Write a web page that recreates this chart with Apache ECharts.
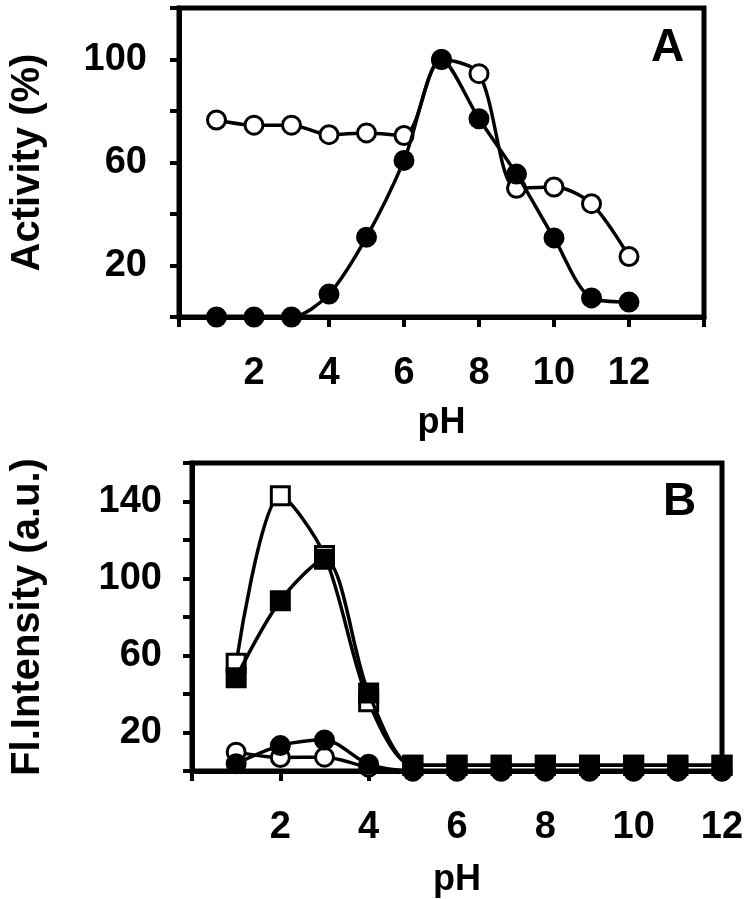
<!DOCTYPE html>
<html>
<head>
<meta charset="utf-8">
<script src="https://cdn.jsdelivr.net/npm/echarts@6/dist/echarts.min.js"></script>
<style>
html,body{margin:0;padding:0;background:#fff;}
#chart{width:754px;height:899px;}
</style>
</head>
<body>
<div id="chart"></div>
<script>
// ---- data ----
const pH = [1, 2, 3, 4, 5, 6, 7, 8, 9, 10, 11, 12];
// Panel A: Activity (%)
const actOpen   = [76.5, 74.5, 74.5, 70.8, 71.5, 70.5, 100, 94.5, 50, 50.5, 44, 23.5];
const actFilled = [0, 0, 0, 8.9, 31, 60.8, 100, 77, 55.5, 30.7, 7.4, 5.8];
// Panel B: Fl. Intensity (a.u.)
const flOpenSq    = [56, 143, 112, 36, 3, 3, 3, 3, 3, 3, 3, 3];
const flFilledSq  = [48.5, 88.5, 110, 40.5, 3, 3, 3, 3, 3, 3, 3, 3];
const flOpenCirc  = [9.8, 7, 7.2, 2, 0, 0, 0, 0, 0, 0, 0, 0];
const flFilledCirc= [3.8, 13.2, 16.1, 3.5, 0, 0, 0, 0, 0, 0, 0, 0];
// tick labels
const xTickLabelsA = [2, 4, 6, 8, 10, 12];
const yTickLabelsA = [20, 60, 100];
const xTickLabelsB = [2, 4, 6, 8, 10, 12];
const yTickLabelsB = [20, 60, 100, 140];

const FONT = 'Liberation Sans, Arial, sans-serif';
const pairs = (ys) => pH.map((x, i) => [x, ys[i]]);

function xAxis(gridIndex, max, labels, margin, nameGap) {
  return {
    type: 'value', gridIndex, min: 0, max, interval: 2,
    name: 'pH', nameLocation: 'middle', nameGap,
    nameTextStyle: {fontFamily: FONT, fontWeight: 'bold', fontSize: 36, color: '#000'},
    axisLine: {show: true, lineStyle: {color: '#000', width: 5}},
    axisTick: {show: true, inside: false, length: 10, lineStyle: {color: '#000', width: 4}},
    axisLabel: {margin, fontFamily: FONT, fontWeight: 'bold', fontSize: 38, color: '#000',
      showMinLabel: true, showMaxLabel: true,
      formatter: (v) => labels.includes(v) ? String(v) : ''},
    splitLine: {show: false}
  };
}
function yAxis(gridIndex, max, labels, name, nameGap, margin) {
  return {
    type: 'value', gridIndex, min: 0, max, interval: 20,
    name, nameLocation: 'middle', nameGap, nameRotate: 90,
    nameTextStyle: {fontFamily: FONT, fontWeight: 'bold', fontSize: 40, color: '#000'},
    axisLine: {show: true, lineStyle: {color: '#000', width: 5}},
    axisTick: {show: true, inside: false, length: 9, lineStyle: {color: '#000', width: 4}},
    axisLabel: {margin, fontFamily: FONT, fontWeight: 'bold', fontSize: 38, color: '#000',
      formatter: (v) => labels.includes(v) ? String(v) : ''},
    splitLine: {show: false}
  };
}
function series(xi, data, symbol, filled, z) {
  return {
    type: 'line', xAxisIndex: xi, yAxisIndex: xi, data: pairs(data),
    smooth: 0.3, symbol, symbolSize: 18, z,
    lineStyle: {color: '#000', width: 3.5},
    itemStyle: {color: filled ? '#000' : '#fff', borderColor: '#000', borderWidth: 3},
    animation: false
  };
}

const chart = echarts.init(document.getElementById('chart'), null, {renderer: 'canvas'});
chart.setOption({
  animation: false,
  backgroundColor: '#fff',
  title: [
    {text: 'A', left: 646, top: 20, textStyle: {fontFamily: FONT, fontWeight: 'bold', fontSize: 46, color: '#000'}},
    {text: 'B', left: 658, top: 474, textStyle: {fontFamily: FONT, fontWeight: 'bold', fontSize: 46, color: '#000'}}
  ],
  grid: [
    {left: 174, top: 8, width: 530, height: 309, show: true, borderColor: '#000', borderWidth: 5, backgroundColor: 'transparent'},
    {left: 186, top: 463, width: 536, height: 315, show: true, borderColor: '#000', borderWidth: 5, backgroundColor: 'transparent'}
  ],
  xAxis: [xAxis(0, 14, xTickLabelsA, 38, 88), xAxis(1, 12, xTickLabelsB, 38, 91)],
  yAxis: [yAxis(0, 120, yTickLabelsA, 'Activity (%)', 131, 32), yAxis(1, 160, yTickLabelsB, 'Fl.Intensity (a.u.)', 144, 30)],
  series: [
    series(0, actOpen, 'circle', false, 2),
    series(0, actFilled, 'circle', true, 3),
    series(1, flOpenCirc, 'circle', false, 2),
    series(1, flFilledCirc, 'circle', true, 3),
    series(1, flOpenSq, 'rect', false, 4),
    series(1, flFilledSq, 'rect', true, 5)
  ]
});
</script>
</body>
</html>
